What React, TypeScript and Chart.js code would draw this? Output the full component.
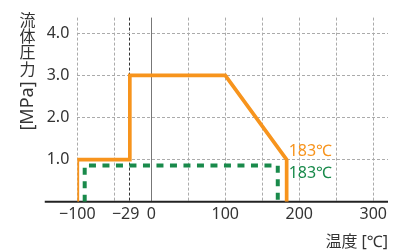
import React, { useEffect, useRef } from 'react';
import { Chart, registerables } from 'chart.js';

Chart.register(...registerables);

// ---- data ----
const ORANGE_T = [-100, -100, -29, -29, 100, 183, 183];
const ORANGE_P = [0, 1.0, 1.0, 3.0, 3.0, 1.0, 0];
const GREEN_T = [-90, -90, 171, 171];
const GREEN_P = [0, 0.86, 0.86, 0];

const X_GRID = [-100, -50, -29, 0, 50, 100, 150, 200, 250, 300];
const X_TICK_VALUES = [-100, -29, 0, 100, 200, 300];
const X_TICK_TEXT = ['\u2212100', '\u221229  ', '0', '100', '200', '300'];
const Y_TICK_VALUES = [1, 2, 3, 4];
const Y_TICK_TEXT = ['1.0', '2.0', '3.0', '4.0'];

const X_MIN = -100;
const X_MAX = 320;
const AXIS_START = -144;
const Y_MIN = 0;
const Y_MAX = 4.37;

const LIMIT_T = 183;
const LIMIT_P = 1.0;
const LIMIT_LABELS = ['183\u2103', '183\u2103'];
const Y_TITLE_CHARS = ['流', '体', '圧', '力'];
const Y_TITLE_UNIT = '[MPa]';
const X_TITLE = '温度 [\u2103]';

const ORANGE = '#F7941D';
const GREEN = '#198A4B';
const TEXT = '#333333';
const FONT = "'Noto Sans', 'Noto Sans CJK JP', sans-serif";

export default function App() {
  const ref = useRef<HTMLCanvasElement>(null);

  useEffect(() => {
    document.body.style.margin = '0';
    const overlay = {
      id: 'overlay',
      beforeDatasetsDraw(chart: any) {
        const { ctx, chartArea, scales } = chart;
        const xs = scales.x;
        const ys = scales.y;
        ctx.save();
        const x0 = xs.getPixelForValue(0);
        ctx.strokeStyle = '#777777';
        ctx.lineWidth = 1;
        ctx.setLineDash([]);
        ctx.beginPath();
        ctx.moveTo(Math.round(x0) + 0.5, chartArea.top);
        ctx.lineTo(Math.round(x0) + 0.5, chartArea.bottom);
        ctx.stroke();
        const yb = ys.getPixelForValue(0);
        ctx.strokeStyle = '#222222';
        ctx.lineWidth = 2;
        ctx.beginPath();
        ctx.moveTo(xs.getPixelForValue(AXIS_START), yb);
        ctx.lineTo(chartArea.right, yb);
        ctx.stroke();
        ctx.restore();
      },
      afterDraw(chart: any) {
        const { ctx, scales } = chart;
        const xs = scales.x;
        const ys = scales.y;
        ctx.save();
        ctx.font = `16px ${FONT}`;
        ctx.textBaseline = 'middle';
        ctx.textAlign = 'left';
        const lx = xs.getPixelForValue(LIMIT_T);
        const ly = ys.getPixelForValue(LIMIT_P);
        ctx.fillStyle = ORANGE;
        ctx.fillText(LIMIT_LABELS[0], lx + 2, ly - 8);
        ctx.fillStyle = GREEN;
        ctx.fillText(LIMIT_LABELS[1], lx + 2, ly + 14);
        ctx.fillStyle = TEXT;
        ctx.textAlign = 'center';
        const cx = 27.5;
        Y_TITLE_CHARS.forEach((c, i) => {
          ctx.fillText(c, cx, 21.4 + i * 16.2);
        });
        ctx.font = `18px ${FONT}`;
        ctx.translate(cx, 106);
        ctx.rotate(-Math.PI / 2);
        ctx.fillText(Y_TITLE_UNIT, 0, 0);
        ctx.restore();
      },
    };

    const chart = new Chart(ref.current as HTMLCanvasElement, {
      type: 'line',
      data: {
        datasets: [
          {
            data: ORANGE_T.map((t, i) => ({ x: t, y: ORANGE_P[i] })),
            borderColor: ORANGE,
            borderWidth: 3.7,
            pointRadius: 0,
            tension: 0,
            borderJoinStyle: 'miter',
            fill: false,
          },
          {
            data: GREEN_T.map((t, i) => ({ x: t, y: GREEN_P[i] })),
            borderColor: GREEN,
            borderWidth: 4,
            borderDash: [7, 6.5],
            pointRadius: 0,
            tension: 0,
            borderJoinStyle: 'miter',
            fill: false,
          },
        ],
      } as any,
      options: {
        animation: false,
        responsive: false,
        maintainAspectRatio: false,
        layout: { padding: { left: 0, right: 11, top: 12.7, bottom: 0 } },
        plugins: { legend: { display: false }, tooltip: { enabled: false } },
        scales: {
          x: {
            type: 'linear',
            min: X_MIN,
            max: X_MAX,
            afterBuildTicks: (s: any) => {
              s.ticks = X_GRID.map((v) => ({ value: v }));
            },
            afterFit: (s: any) => {
              s.height = 49.3;
            },
            ticks: {
              autoSkip: false,
              maxRotation: 0,
              padding: 3,
              color: TEXT,
              font: { family: FONT, size: 16 },
              callback: (v: any) => {
                const i = X_TICK_VALUES.indexOf(Number(v));
                return i >= 0 ? X_TICK_TEXT[i] : '';
              },
            },
            grid: {
              drawTicks: false,
              lineWidth: 1,
              color: (c: any) => {
                const v = c.tick ? c.tick.value : null;
                if (v === 0) return 'rgba(0,0,0,0)';
                if (v === -29) return '#333333';
                return '#ababab';
              },
            },
            border: { display: false, dash: [3, 2] },
            title: {
              display: true,
              text: X_TITLE,
              align: 'end',
              color: TEXT,
              font: { family: FONT, size: 16, lineHeight: 1.1 },
              padding: 0,
            },
          },
          y: {
            type: 'linear',
            min: Y_MIN,
            max: Y_MAX,
            afterBuildTicks: (s: any) => {
              s.ticks = Y_TICK_VALUES.map((v) => ({ value: v }));
            },
            afterFit: (s: any) => {
              s.width = 77.3;
            },
            ticks: {
              padding: 8,
              color: TEXT,
              font: { family: FONT, size: 16 },
              callback: (v: any) => {
                const i = Y_TICK_VALUES.indexOf(Number(v));
                return i >= 0 ? Y_TICK_TEXT[i] : '';
              },
            },
            grid: { drawTicks: false, lineWidth: 1, color: '#ababab' },
            border: { display: false, dash: [3, 2] },
          },
        },
      } as any,
      plugins: [overlay],
    });
    return () => chart.destroy();
  }, []);

  return (
    <div style={{ position: 'fixed', left: 0, top: 0, width: 399, height: 251, background: '#fff' }}>
      <canvas ref={ref} width={399} height={251} style={{ display: 'block' }} />
    </div>
  );
}
